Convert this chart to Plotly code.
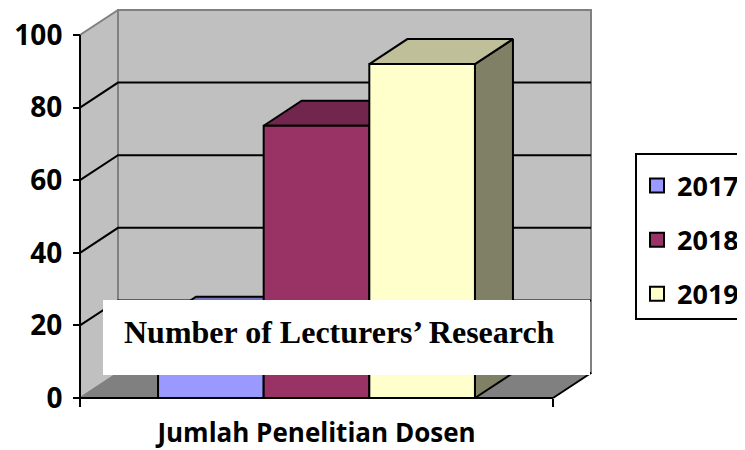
import plotly.graph_objects as go

# ---------------- data ----------------
categories = ["Jumlah Penelitian Dosen"]
series_names = ["2017", "2018", "2019"]
values = [21, 75, 92]
y_ticks = [0, 20, 40, 60, 80, 100]
overlay_label = "Number of Lecturers’ Research"

front_colors = ["#9999FF", "#993366", "#FFFFCC"]
top_colors = ["#7373BF", "#73264D", "#BFBF99"]
side_colors = ["#4D4D80", "#4D1A33", "#808066"]

# ---------------- geometry / style ----------------
OFF = 8                      # page body margin
W, H = 745 - OFF, 450 - OFF
PL, PR, PT, PB = 60, 600, 8, 420   # plot area in page pixels
ML, MR, MT, MB = PL - OFF, W - (PR - OFF), PT - OFF, H - (PB - OFF)
PX_X = 473.0          # pixels per category width
PX_Y = 3.63           # pixels per value unit
AX_X_PX = 80          # front y axis page pixel position
AX_Y_PX = 398         # front floor page pixel position
DX = 38 / PX_X        # depth offset in x units
DY = 25 / PX_Y        # depth offset in y units
GAP = 0.165
BW = (1 - 2 * GAP) / len(values)
VMAX = y_ticks[-1]

xmin = -(AX_X_PX - PL) / PX_X
xmax = (PR - AX_X_PX) / PX_X
ymin = -(PB - AX_Y_PX) / PX_Y
ymax = (AX_Y_PX - PT) / PX_Y

WALL = "#C0C0C0"
WALL_EDGE = "#808080"
FLOOR = "#808080"
LW = 2


def poly(xs, ys, fill, line_color="black", lw=LW):
    return go.Scatter(x=xs + [xs[0]], y=ys + [ys[0]], fill="toself",
                      fillcolor=fill, mode="lines",
                      line=dict(color=line_color, width=lw),
                      showlegend=False, hoverinfo="skip")


def seg(xs, ys, color="black", lw=LW):
    return go.Scatter(x=xs, y=ys, mode="lines", line=dict(color=color, width=lw),
                      showlegend=False, hoverinfo="skip")


fig = go.Figure()

# back wall
fig.add_trace(poly([DX, 1 + DX, 1 + DX, DX], [DY, DY, VMAX + DY, VMAX + DY], WALL, WALL_EDGE))
# left wall
fig.add_trace(poly([0, DX, DX, 0], [0, DY, VMAX + DY, VMAX], WALL, WALL_EDGE))

# gridlines
gx, gy = [], []
for v in y_ticks[1:-1]:
    gx += [0, DX, 1 + DX, None]
    gy += [v, v + DY, v + DY, None]
fig.add_trace(seg(gx, gy))

# floor
fig.add_trace(poly([0, 1, 1 + DX, DX], [0, 0, DY, DY], FLOOR, FLOOR, 1))
fig.add_trace(seg([DX, 1 + DX, 1], [DY, DY, 0]))

# bars
for i, v in enumerate(values):
    x0 = GAP + i * BW
    x1 = x0 + BW
    fig.add_trace(poly([x1, x1 + DX, x1 + DX, x1], [0, DY, v + DY, v], side_colors[i]))
    fig.add_trace(poly([x0, x1, x1 + DX, x0 + DX], [v, v, v + DY, v + DY], top_colors[i]))
    fig.add_trace(poly([x0, x1, x1, x0], [0, 0, v, v], front_colors[i]))

# front axis lines
fig.add_trace(seg([0, 0], [0, VMAX]))
fig.add_trace(seg([0, 1], [0, 0]))

# legend entries
for n, c in zip(series_names, front_colors):
    fig.add_trace(go.Scatter(x=[None], y=[None], mode="markers", name=n, legendgroup=n,
                             marker=dict(symbol="square", size=14, color=c,
                                         line=dict(color="black", width=2))))

tick_font = dict(family="Open Sans", size=28, color="black", weight="bold")


def px_to_paper_x(p):
    return (p - PL) / (PR - PL)


def px_to_paper_y(p):
    return (PB - p) / (PB - PT)


fig.update_layout(
    width=W, height=H,
    margin=dict(l=ML, r=MR, t=MT, b=MB, autoexpand=False),
    paper_bgcolor="white", plot_bgcolor="white",
    showlegend=True,
    legend=dict(x=px_to_paper_x(635), y=px_to_paper_y(153), xanchor="left", yanchor="top",
                bgcolor="white", bordercolor="black", borderwidth=2,
                font=dict(family="Open Sans", size=27, color="black", weight="bold"),
                title=dict(text=" ", font=dict(size=5)),
                tracegroupgap=16),
    xaxis=dict(range=[xmin, xmax], showgrid=False, zeroline=False, showline=False,
               anchor="free", position=(0 - ymin) / (ymax - ymin),
               tickvals=[0.5], ticktext=categories, ticks="",
               ticklabelstandoff=17,
               tickfont=dict(family="Open Sans", size=26, color="black", weight="bold"),
               minor=dict(tickvals=[0, 1], ticks="outside", ticklen=8, tickwidth=2,
                          tickcolor="black", showgrid=False)),
    yaxis=dict(range=[ymin, ymax], showgrid=False, zeroline=False, showline=False,
               anchor="free", position=(0 - xmin) / (xmax - xmin),
               tickvals=y_ticks, ticks="outside", ticklen=7, tickwidth=2, tickcolor="black",
               ticklabelstandoff=5, tickfont=tick_font),
    shapes=[dict(type="rect", xref="paper", yref="paper", layer="above",
                 x0=px_to_paper_x(103), x1=px_to_paper_x(590),
                 y0=px_to_paper_y(375), y1=px_to_paper_y(300),
                 fillcolor="white", line=dict(width=0))],
    annotations=[dict(xref="paper", yref="paper", x=px_to_paper_x(339), y=px_to_paper_y(332),
                      xanchor="center", yanchor="middle", showarrow=False,
                      text=overlay_label,
                      font=dict(family="Liberation Serif", size=32, color="black", weight="bold"))],
)

fig.write_html("out.html")
